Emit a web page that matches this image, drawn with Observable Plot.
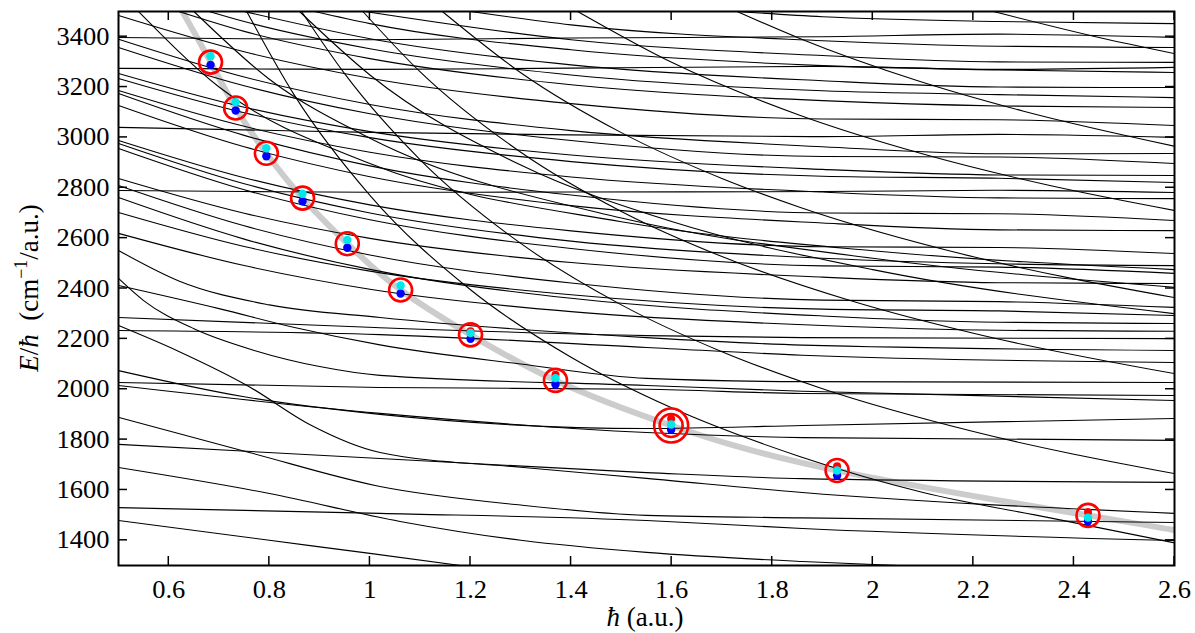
<!DOCTYPE html>
<html><head><meta charset="utf-8">
<script src="https://cdn.jsdelivr.net/npm/d3@7"></script>
<script src="https://cdn.jsdelivr.net/npm/@observablehq/plot@0.6"></script>
<style>body{margin:0;background:#fff}</style>
</head><body><div id="chart"></div>
<script>
// ---- tick labels ----
const xTicks = [0.6, 0.8, 1, 1.2, 1.4, 1.6, 1.8, 2, 2.2, 2.4, 2.6];
const yTicks = [1400, 1600, 1800, 2000, 2200, 2400, 2600, 2800, 3000, 3200, 3400];

// ---- red circles (hbar, E/hbar) ----
const circleX = [0.683, 0.733, 0.794, 0.866, 0.955, 1.061, 1.200, 1.369, 1.599, 1.929, 2.428];
const circleE = [3299, 3117, 2937, 2759, 2578, 2394, 2216, 2035, 1856, 1677, 1499];
const cyanE   = [3322, 3140, 2957, 2776, 2593, 2412, 2223, 2044, 1860, 1677, 1490];
const blueE   = [3288, 3107, 2925, 2746, 2562, 2380, 2200, 2019, 1839, 1657, 1476];
const redDotX = [1.200, 1.369, 1.599, 1.929, 2.428];
const redDotE = [2230, 2057, 1883, 1694, 1512];
const doubleRingX = [1.599];
const doubleRingE = [1856];

// ---- thick grey guide curve ----
const greyX = [0.627, 0.683, 0.733, 0.794, 0.866, 0.955, 1.061, 1.2, 1.369, 1.599, 1.929, 2.428, 2.6];
const greyE = [3500, 3299, 3117, 2937, 2759, 2578, 2394, 2216, 2035, 1856, 1677, 1499, 1440];

// ---- black level curves, lower group ([hbar, E/hbar] pairs) ----
const lowerLines = [
  [[0.5,1479],[0.8,1400],[1.0,1348],[1.18,1300]],
  [[0.5,1530],[1.02,1507],[1.55,1479],[1.86,1447],[2.6,1399]],
  [[0.5,1689],[0.8,1586],[1.06,1475],[1.3,1400],[1.55,1352],[1.86,1316],[2.05,1300]],
  [[0.5,1888],[0.76,1749],[1.02,1614],[1.3,1540],[1.55,1499],[1.86,1489],[2.6,1471]],
  [[0.5,1781],[1.02,1725],[1.55,1669],[1.86,1645],[2.6,1630]],
  [[0.5,2253],[0.62,2150],[0.76,2010],[0.88,1860],[1.02,1749],[1.3,1690],[1.55,1646],[1.86,1590],[2.6,1507]],
  [[0.5,2027],[1.02,2007],[1.55,2000],[1.86,1983],[2.6,1975]],
  [[0.5,2015],[1.02,1904],[1.55,1828],[1.86,1808],[2.6,1797]],
  [[0.5,2074],[0.75,1970],[1.02,1900],[1.55,1844],[1.86,1856],[2.6,1884]]
];
// ---- middle group ----
const middleLines = [
  [[0.5,2285],[1.01,2245],[1.55,2213],[1.86,2205],[2.6,2201]],
  [[0.5,2233],[1.02,2217],[1.55,2166],[1.86,2135],[2.6,2106]],
  [[0.5,2412],[0.7,2320],[0.85,2245],[1.02,2176],[1.3,2100],[1.55,2043],[1.86,2030],[2.6,2027]],
  [[0.5,2440],[0.55,2352],[0.65,2240],[0.77,2154],[0.9,2090],[1.02,2055],[1.55,2015],[1.86,1992],[2.6,1955]],
  [[0.5,2551],[0.62,2430],[0.8,2335],[1.02,2285],[1.55,2205],[1.86,2175],[2.6,2154]]
];
// ---- upper group: values at gridX ----
const gridX = [0.5, 0.75, 1.0, 1.4, 1.9, 2.25, 2.6];
const upperSloped = [
  [3484,3340,3235,3134,3073,3070,3047],
  [3390,3240,3131,3027,2963,2935,2936],
  [3357,3205,3094,2988,2924,2922,2896],
  [3254,3120,3023,2930,2873,2851,2849],
  [3234,3098,2999,2904,2846,2838,2821],
  [3186,3044,2941,2843,2783,2760,2757],
  [3174,3008,2887,2771,2700,2697,2670],
  [3127,2963,2844,2729,2660,2633,2630],
  [2988,2840,2732,2629,2566,2563,2539],
  [2976,2816,2700,2588,2520,2498,2491],
  [2956,2792,2673,2559,2490,2485,2460],
  [2837,2699,2599,2503,2445,2423,2420],
  [2809,2649,2533,2422,2354,2348,2325],
  [2761,2596,2476,2361,2291,2266,2261],
  [2702,2567,2469,2375,2318,2311,2293],
  [2619,2491,2397,2308,2253,2234,2230]
];
const upperFlat = [
  [3397,3392,3388,3395,3400,3410,3397],
  [3274,3272,3270,3275,3282,3270,3278],
  [3040,3030,3020,3010,3003,3012,3000],
  [2789,2785,2782,2783,2785,2790,2781]
];
// ---- curves entering through the top edge ----
const topLines = [
  [[0.62,3500],[0.75,3421],[1.0,3313],[1.4,3209],[1.9,3146],[2.25,3125],[2.6,3119]],
  [[0.68,3500],[0.75,3460],[1.0,3352],[1.4,3248],[1.9,3185],[2.25,3170],[2.6,3158]],
  [[0.75,3500],[1.0,3392],[1.4,3288],[1.9,3225],[2.25,3200],[2.6,3198]],
  [[0.89,3500],[1.0,3452],[1.4,3348],[1.9,3285],[2.25,3268],[2.6,3258]],
  [[0.99,3500],[1.4,3388],[1.9,3325],[2.25,3300],[2.6,3298]],
  [[1.2,3500],[1.4,3447],[1.9,3384],[2.25,3362],[2.6,3357]],
  [[1.73,3500],[1.9,3479],[2.25,3460],[2.6,3452]],
  [[0.54,3500],[0.7,3200],[1.0,2896],[1.5,2665],[2.0,2550],[2.6,2475]],
  [[0.65,3500],[0.8,3231],[1.0,2997],[1.5,2680],[2.0,2520],[2.6,2405]],
  [[0.86,3500],[1.0,3248],[1.3,2890],[1.6,2666],[2.0,2475],[2.6,2300]]
];
// ---- steep curves ----
const steepLines = [
  [[0.755,3500],[0.85,3167],[1.0,2770],[1.2,2395],[1.4,2127],[1.6,1926],[1.856,1732],[2.1,1590],[2.35,1490],[2.6,1390]],
  [[0.864,3500],[0.95,3252],[1.1,2911],[1.3,2579],[1.5,2335],[1.7,2149],[1.9,2002],[2.2,1832],[2.6,1665]],
  [[0.986,3500],[1.1,3260],[1.3,2941],[1.5,2706],[1.7,2527],[1.955,2352],[2.2,2222],[2.6,2062]],
  [[1.144,3500],[1.3,3257],[1.5,3019],[1.7,2837],[1.856,2722],[2.2,2526],[2.6,2364]],
  [[1.413,3500],[1.6,3298],[1.856,3087],[2.1,2934],[2.35,2810],[2.6,2710]],
  [[1.73,3500],[1.856,3392],[2.088,3226],[2.3,3104],[2.6,2965]],
  [[2.24,3500],[2.45,3397],[2.6,3333]]
];

// ---- build one long table for the line mark ----
const rows = [];
const addPairs = (name, lines) => lines.forEach((pts, i) => pts.forEach(([x, y]) => rows.push({id: name + i, x, y})));
const addGrid = (name, lines) => lines.forEach((vals, i) => vals.forEach((y, j) => rows.push({id: name + i, x: gridX[j], y})));
addPairs("L", lowerLines);
addPairs("M", middleLines);
addPairs("T", topLines);
addPairs("S", steepLines);
addGrid("U", upperSloped);
addGrid("F", upperFlat);

const grey = greyX.map((x, i) => ({x, y: greyE[i]}));
const circles = circleX.map((x, i) => ({x, y: circleE[i]}));
const cyan = circleX.map((x, i) => ({x, y: cyanE[i]}));
const blue = circleX.map((x, i) => ({x, y: blueE[i]}));
const redDots = redDotX.map((x, i) => ({x, y: redDotE[i]}));
const rings = doubleRingX.map((x, i) => ({x, y: doubleRingE[i]}));

const serif = "'Liberation Serif', 'DejaVu Serif', serif";

const chart = Plot.plot({
  width: 1195, height: 633,
  marginLeft: 118, marginRight: 21, marginTop: 11, marginBottom: 68,
  style: "background: white; color: black;",
  x: {domain: [0.5, 2.6]},
  y: {domain: [1300, 3500]},
  marks: [
    Plot.line(grey, {x: "x", y: "y", stroke: "#cccccc", strokeWidth: 6, curve: "natural", clip: true}),
    Plot.line(rows, {x: "x", y: "y", z: "id", stroke: "black", strokeWidth: 1.1, curve: "monotone-x", clip: true}),
    Plot.dot(circles, {x: "x", y: "y", r: 11.5, stroke: "#ff0000", strokeWidth: 2.6, fill: "none"}),
    Plot.dot(rings, {x: "x", y: "y", r: 17, stroke: "#ff0000", strokeWidth: 2.6, fill: "none"}),
    Plot.dot(redDots, {x: "x", y: "y", r: 4, fill: "#ff0000"}),
    Plot.dot(blue, {x: "x", y: "y", r: 4.2, fill: "#0000ff"}),
    Plot.dot(cyan, {x: "x", y: "y", r: 4.2, fill: "#00e8e8"}),
    Plot.axisX({anchor: "bottom", ticks: xTicks, tickSize: 0, tickPadding: 15, tickFormat: d => String(d), label: null}),
    Plot.axisY({anchor: "left", ticks: yTicks, tickSize: 0, tickPadding: 9, tickFormat: d => String(d), label: null}),
    Plot.frame({stroke: "black", strokeWidth: 2})
  ]
});

document.getElementById("chart").appendChild(chart);

const svg = d3.select(chart);
// serif tick labels (all texts Plot made are tick labels)
svg.selectAll("text")
  .attr("font-family", null).attr("font-size", null)
  .style("font-family", serif).style("font-size", "25px").style("fill", "black");
svg.selectAll("text").each(function() {
  const w = this.getComputedTextLength();
  if (w > 0) { this.setAttribute("textLength", (w * 1.06).toFixed(1)); this.setAttribute("lengthAdjust", "spacingAndGlyphs"); }
});

// inward ticks on all four sides, positioned with Plot's own scales
const sx = chart.scale("x"), sy = chart.scale("y");
const ticks = svg.append("g").attr("stroke", "black").attr("stroke-width", 1.5);
const yb = sy.apply(1300), yt0 = sy.apply(3500);
const xl = sx.apply(0.5), xr = sx.apply(2.6);
xTicks.forEach(v => {
  const px = sx.apply(v);
  ticks.append("line").attr("x1", px).attr("x2", px).attr("y1", yb).attr("y2", yb - 9);
  ticks.append("line").attr("x1", px).attr("x2", px).attr("y1", yt0).attr("y2", yt0 + 9);
});
yTicks.forEach(v => {
  const py = sy.apply(v);
  ticks.append("line").attr("y1", py).attr("y2", py).attr("x1", xl).attr("x2", xl + 9);
  ticks.append("line").attr("y1", py).attr("y2", py).attr("x1", xr).attr("x2", xr - 9);
});

// axis titles
const xt = svg.append("text").attr("x", 645).attr("y", 626).attr("text-anchor", "middle")
  .style("font-family", serif).style("font-size", "27px").style("fill", "black");
xt.append("tspan").style("font-style", "italic").text("ħ");
xt.append("tspan").text(" (a.u.)");

const yt = svg.append("text").attr("transform", "translate(38,288) rotate(-90)").attr("text-anchor", "middle")
  .style("font-family", serif).style("font-size", "27px").style("fill", "black");
yt.append("tspan").style("font-style", "italic").text("E");
yt.append("tspan").text("/");
yt.append("tspan").style("font-style", "italic").text("ħ");
yt.append("tspan").text("  (cm");
yt.append("tspan").style("font-size", "18px").attr("dy", -11).text("−1");
yt.append("tspan").attr("dy", 11).text("/a.u.)");
</script>
</body></html>
